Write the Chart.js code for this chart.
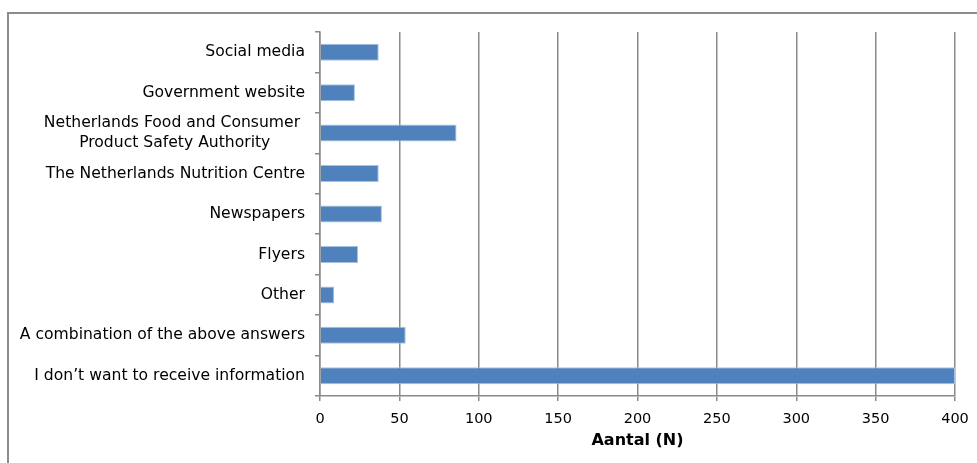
<!DOCTYPE html>
<html>
<head>
<meta charset="utf-8">
<script src="https://cdn.jsdelivr.net/npm/chart.js@4"></script>
<style>
  html, body { margin: 0; padding: 0; background: #ffffff; overflow: hidden; }
  #frame { position: absolute; left: 7px; top: 12px; width: 1100px; height: 600px; border: 2px solid #8c8c8c; box-sizing: border-box; }
  #c { position: absolute; left: 0; top: 0; }
</style>
</head>
<body>
<div id="frame"></div>
<canvas id="c" width="977" height="463"></canvas>
<script>
const categories = [
  "Social media",
  "Government website",
  ["Netherlands Food and Consumer\u00A0", "Product Safety Authority\u00A0\u00A0\u00A0\u00A0\u00A0\u00A0\u00A0"],
  "The Netherlands Nutrition Centre",
  "Newspapers",
  "Flyers",
  "Other",
  "A combination of the above answers",
  "I don\u2019t want to receive information"
];
const counts = [37, 22, 86, 37, 39, 24, 9, 54, 400];
const xTicks = [0, 50, 100, 150, 200, 250, 300, 350, 400];
const xTitle = "Aantal (N)";

const FONT = "'DejaVu Sans', Verdana, sans-serif";
const GRID = '#8a8a8a';

new Chart(document.getElementById('c'), {
  type: 'bar',
  data: {
    labels: categories,
    datasets: [{
      data: counts,
      backgroundColor: '#4f81bd',
      borderColor: '#a9c1e0',
      borderWidth: 1,
      barPercentage: 0.42,
      categoryPercentage: 1.0
    }]
  },
  options: {
    indexAxis: 'y',
    responsive: false,
    animation: false,
    layout: { padding: { left: 0, top: 32, right: 22, bottom: 0 } },
    plugins: { legend: { display: false }, tooltip: { enabled: false } },
    scales: {
      x: {
        min: xTicks[0],
        max: xTicks[xTicks.length - 1],
        afterBuildTicks: (s) => { s.ticks = xTicks.map(v => ({ value: v })); },
        afterFit: (s) => { s.height = 67; s.paddingLeft = 0; s.paddingRight = 0; },
        grid: { color: GRID, lineWidth: 1.5, tickLength: 5, drawTicks: true },
        border: { display: true, color: GRID, width: 1.5 },
        ticks: { color: '#000', padding: 10, font: { family: FONT, size: 14.5 } },
        title: { display: true, text: xTitle, color: '#000', padding: { top: 0, bottom: 13 }, font: { family: FONT, size: 16, weight: 'bold' } }
      },
      y: {
        afterFit: (s) => { s.width = 320; s.paddingTop = 0; s.paddingBottom = 0; },
        grid: { drawOnChartArea: false, color: GRID, lineWidth: 1.5, tickLength: 5, offset: true },
        border: { display: true, color: GRID, width: 1.5 },
        ticks: { color: '#000', padding: 10, autoSkip: false, font: { family: FONT, size: 15.6, lineHeight: 1.3 } }
      }
    }
  }
});
</script>
</body>
</html>
